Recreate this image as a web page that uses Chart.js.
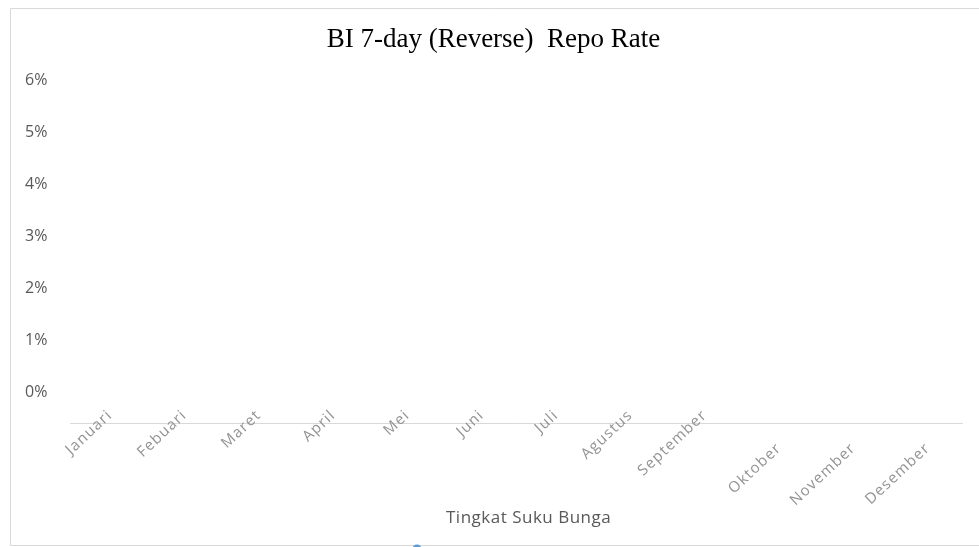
<!DOCTYPE html>
<html>
<head>
<meta charset="utf-8">
<script src="https://cdn.jsdelivr.net/npm/chart.js@4"></script>
<style>
  html, body { margin: 0; padding: 0; background: #fff; }
  #wrap { width: 979px; height: 547px; position: relative; }
</style>
</head>
<body>
<div id="wrap"><canvas id="rate-chart"></canvas></div>
<script>
// months on the category axis
const months = ['Januari', 'Febuari', 'Maret', 'April', 'Mei', 'Juni', 'Juli',
  'Agustus', 'September', 'Oktober', 'November', 'Desember'];
// no line is drawn in the picture, so every month is empty
const rateValues = [null, null, null, null, null, null, null, null, null, null, null, null];
// value axis labels (percent)
const yTicks = [0, 1, 2, 3, 4, 5, 6];
const seriesName = 'Tingkat Suku Bunga';
const chartTitle = 'BI 7-day (Reverse)  Repo Rate';

// labels, legend and frame are drawn by hand to follow the odd Excel layout
const excelBits = {
  id: 'excelBits',
  afterDraw(chart) {
    const ctx = chart.ctx;
    const xs = chart.scales.x;
    ctx.save();

    // frame (left, top, bottom only)
    ctx.strokeStyle = '#d9d9d9';
    ctx.lineWidth = 1;
    ctx.beginPath();
    ctx.moveTo(979, 8.5);
    ctx.lineTo(10.5, 8.5);
    ctx.lineTo(10.5, 545.5);
    ctx.lineTo(979, 545.5);
    ctx.stroke();

    // rotated month labels
    ctx.fillStyle = '#939393';
    ctx.font = '15px "Open Sans"';
    ctx.letterSpacing = '1.2px';
    ctx.textAlign = 'right';
    ctx.textBaseline = 'middle';
    months.forEach((m, i) => {
      const x = xs.getPixelForTick(i) + 3;
      const y = i < 9 ? 413 : 446;
      ctx.save();
      ctx.translate(x, y);
      ctx.rotate(-43 * Math.PI / 180);
      ctx.fillText(m, 0, 0);
      ctx.restore();
    });

    // legend
    ctx.fillStyle = '#595959';
    ctx.font = '17px "Open Sans"';
    ctx.letterSpacing = '0.5px';
    ctx.textAlign = 'left';
    ctx.fillText(seriesName, 446, 518);
    ctx.fillStyle = '#5b9bd5';
    ctx.beginPath();
    ctx.arc(417, 549, 4.5, 0, Math.PI * 2);
    ctx.fill();

    ctx.restore();
  }
};

new Chart(document.getElementById('rate-chart'), {
  type: 'line',
  data: {
    labels: months,
    datasets: [{
      label: seriesName,
      data: rateValues,
      borderColor: '#5b9bd5',
      backgroundColor: '#5b9bd5',
      borderWidth: 2.25,
      pointRadius: 4
    }]
  },
  options: {
    responsive: true,
    maintainAspectRatio: false,
    animation: false,
    layout: { padding: { left: 25, right: 17, top: 8, bottom: 124 } },
    plugins: {
      legend: { display: false },
      tooltip: { enabled: false },
      title: {
        display: true,
        text: chartTitle,
        color: '#000',
        font: { family: '"Liberation Serif", "Times New Roman", serif', size: 27, weight: 'normal' },
        padding: { top: 16, bottom: 23.6 }
      }
    },
    scales: {
      x: {
        offset: true,
        grid: { display: false },
        border: { display: true, color: '#d9d9d9', width: 1 },
        ticks: { display: false },
        afterFit(scale) { scale.height = 0; }
      },
      y: {
        min: -0.58,
        max: 6,
        grid: { display: false },
        border: { display: false },
        afterBuildTicks(scale) { scale.ticks = yTicks.map(v => ({ value: v })); },
        afterFit(scale) { scale.width = 45; },
        ticks: {
          crossAlign: 'far',
          color: '#595959',
          font: { family: '"Open Sans"', size: 16 },
          callback: v => v + '%'
        }
      }
    }
  },
  plugins: [excelBits]
});
</script>
</body>
</html>
